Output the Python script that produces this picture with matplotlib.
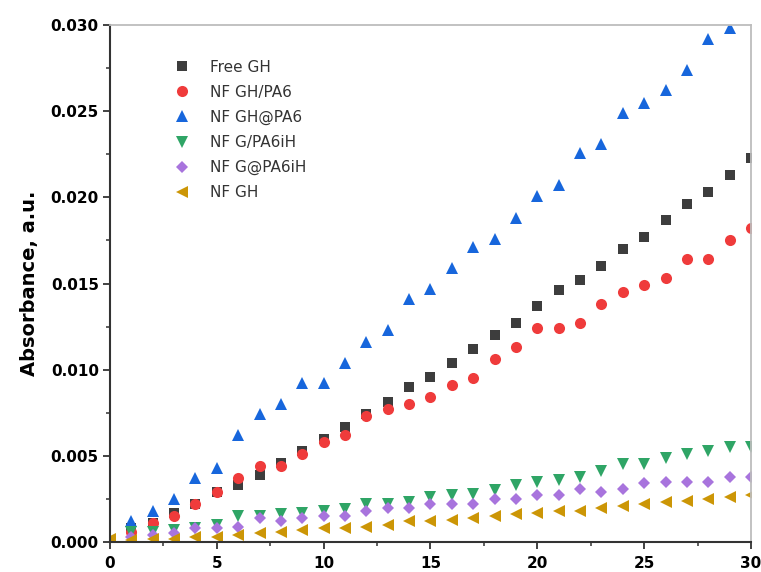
import matplotlib
matplotlib.use("Agg")
import matplotlib.pyplot as plt
from matplotlib.ticker import MultipleLocator, FormatStrFormatter

# time points (min) and absorbance readings for each sample
time_min = list(range(0, 31))

free_gh = [0.0000, 0.0008, 0.0011, 0.0017, 0.0022, 0.0029, 0.0033, 0.0039, 0.0046, 0.0053,
           0.0060, 0.0067, 0.0074, 0.0081, 0.0090, 0.0096, 0.0104, 0.0112, 0.0120, 0.0127,
           0.0137, 0.0146, 0.0152, 0.0160, 0.0170, 0.0177, 0.0187, 0.0196, 0.0203, 0.0213,
           0.0223]
nf_gh_pa6 = [0.0000, 0.0006, 0.0011, 0.0015, 0.0022, 0.0029, 0.0037, 0.0044, 0.0044, 0.0051,
             0.0058, 0.0062, 0.0073, 0.0077, 0.0080, 0.0084, 0.0091, 0.0095, 0.0106, 0.0113,
             0.0124, 0.0124, 0.0127, 0.0138, 0.0145, 0.0149, 0.0153, 0.0164, 0.0164, 0.0175,
             0.0182]
nf_gh_at_pa6 = [0.0000, 0.0012, 0.0018, 0.0025, 0.0037, 0.0043, 0.0062, 0.0074, 0.0080, 0.0092,
                0.0092, 0.0104, 0.0116, 0.0123, 0.0141, 0.0147, 0.0159, 0.0171, 0.0176, 0.0188,
                0.0201, 0.0207, 0.0226, 0.0231, 0.0249, 0.0255, 0.0262, 0.0274, 0.0292, 0.0298,
                0.0305]
nf_g_pa6ih = [0.0000, 0.0006, 0.0006, 0.0007, 0.0008, 0.0010, 0.0015, 0.0015, 0.0016, 0.0017,
              0.0018, 0.0019, 0.0022, 0.0022, 0.0023, 0.0026, 0.0027, 0.0028, 0.0030, 0.0033,
              0.0035, 0.0036, 0.0038, 0.0041, 0.0045, 0.0045, 0.0049, 0.0051, 0.0053, 0.0055,
              0.0055]
nf_g_at_pa6ih = [0.0000, 0.0003, 0.0004, 0.0005, 0.0008, 0.0008, 0.0009, 0.0014, 0.0012, 0.0014,
                 0.0015, 0.0015, 0.0018, 0.0020, 0.0020, 0.0022, 0.0022, 0.0022, 0.0025, 0.0025,
                 0.0027, 0.0027, 0.0031, 0.0029, 0.0031, 0.0034, 0.0035, 0.0035, 0.0035, 0.0038,
                 0.0038]
nf_gh = [0.0002, 0.0001, 0.0002, 0.0002, 0.0003, 0.0003, 0.0004, 0.0005, 0.0006, 0.0007,
         0.0008, 0.0008, 0.0009, 0.0010, 0.0012, 0.0012, 0.0013, 0.0014, 0.0015, 0.0016,
         0.0017, 0.0018, 0.0018, 0.0020, 0.0021, 0.0022, 0.0023, 0.0024, 0.0025, 0.0026,
         0.0027]

series = [
    ("Free GH", free_gh, "s", "#3d3d3d", 6.5),
    ("NF GH/PA6", nf_gh_pa6, "o", "#ef3b3b", 8),
    ("NF GH@PA6", nf_gh_at_pa6, "^", "#1766dc", 8.5),
    ("NF G/PA6iH", nf_g_pa6ih, "v", "#2fa566", 8.5),
    ("NF G@PA6iH", nf_g_at_pa6ih, "D", "#a874dd", 6.5),
    ("NF GH", nf_gh, "<", "#cc9606", 8.5),
]

fig = plt.figure(figsize=(7.61, 5.72), dpi=100)
ax = fig.add_axes([0.1445, 0.0524, 0.8424, 0.9039])

for label, vals, mk, col, ms in series:
    ax.plot(time_min, vals, linestyle="none", marker=mk, markersize=ms,
            color=col, markeredgewidth=0, label=label)

ax.set_xlim(0, 30)
ax.set_ylim(0, 0.030)
ax.xaxis.set_major_locator(MultipleLocator(5))
ax.xaxis.set_minor_locator(MultipleLocator(2.5))
ax.yaxis.set_major_locator(MultipleLocator(0.005))
ax.yaxis.set_minor_locator(MultipleLocator(0.0025))
ax.yaxis.set_major_formatter(FormatStrFormatter("%.3f"))

ax.tick_params(which="major", direction="out", length=5, width=1.3,
               labelsize=11, pad=3, color="#333333")
ax.tick_params(which="minor", direction="out", length=3, width=1.1, color="#333333")
ax.tick_params(axis="x", which="major", pad=5)
for lbl in ax.get_xticklabels() + ax.get_yticklabels():
    lbl.set_fontweight("bold")

for side in ("left", "bottom"):
    ax.spines[side].set_color("#333333")
    ax.spines[side].set_linewidth(1.5)
for side in ("top", "right"):
    ax.spines[side].set_color("#bdbdbd")
    ax.spines[side].set_linewidth(1.3)

ax.set_ylabel("Absorbance, a.u.", fontsize=14, fontweight="bold", labelpad=8)

leg = ax.legend(loc="upper left", bbox_to_anchor=(0.089, 0.945), frameon=False,
                fontsize=11, labelspacing=0.66, handlelength=1.2, handletextpad=1.2,
                borderaxespad=0)
for t in leg.get_texts():
    t.set_color("#333333")

fig.savefig("out.png", dpi=100)
